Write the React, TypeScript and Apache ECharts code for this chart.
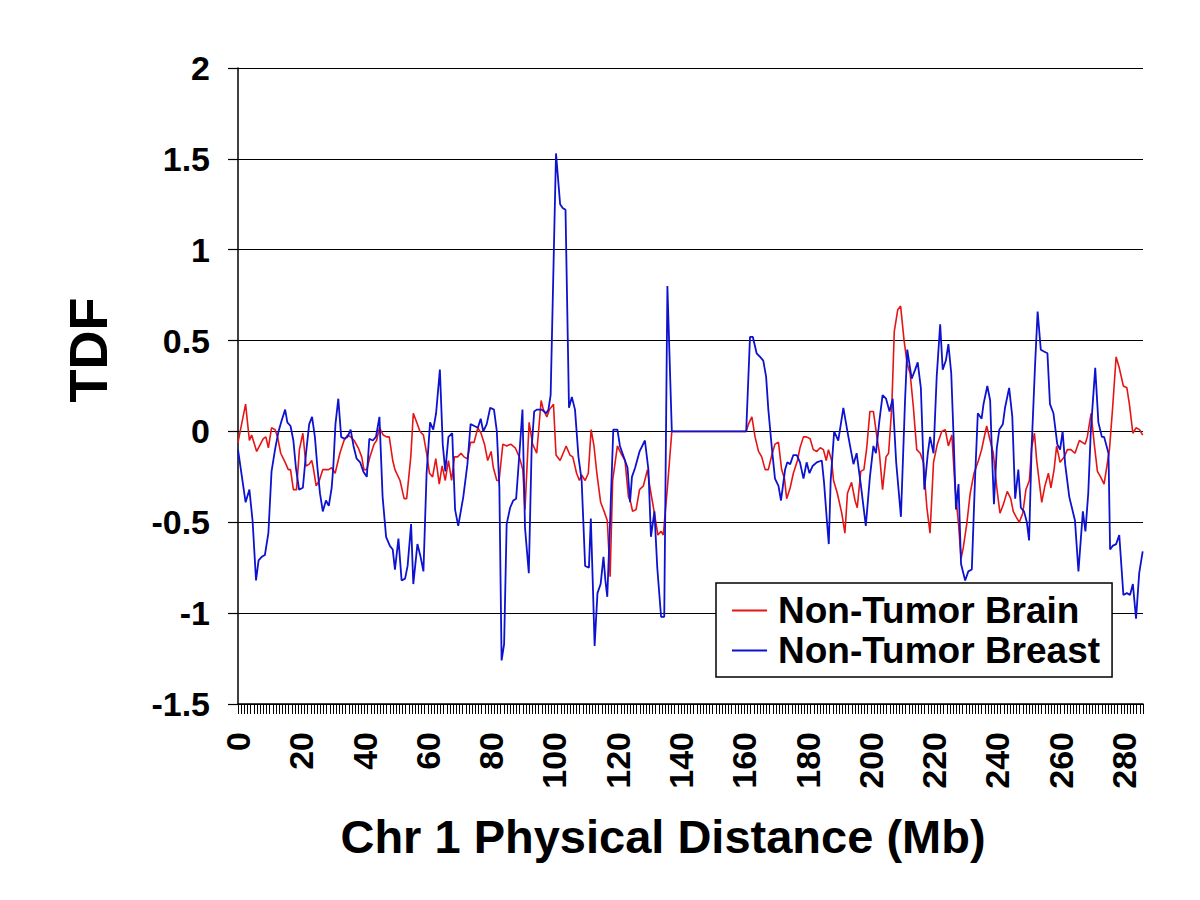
import React, { useEffect, useRef } from "react";
import * as echarts from "echarts";

// Tick labels / axis ranges
const xMin = 0;
const xMax = 286;
const xInterval = 20;
const yMin = -1.5;
const yMax = 2;
const yInterval = 0.5;

const seriesNames = ["Non-Tumor Brain", "Non-Tumor Breast"];

// Non-Tumor Brain: [Mb, TDF]
const brainPoints: [number, number][] = [
  [0, -0.06], [2.4, 0.15], [3.6, -0.05], [4.3, -0.02], [5.9, -0.11], [8, -0.04], [8.8, -0.03], [9.6, -0.09],
  [10.6, 0.02], [11.7, 0.01], [12.5, -0.03], [13.5, -0.12], [14.9, -0.17], [15.9, -0.21], [16.6, -0.21],
  [17.5, -0.32], [18.5, -0.32], [19.4, -0.1], [20.5, -0.01], [21.5, -0.19], [22.5, -0.18], [23.3, -0.16],
  [23.8, -0.2], [24.7, -0.3], [25.7, -0.27], [26.8, -0.21], [28.6, -0.21], [29.6, -0.2], [30.7, -0.23],
  [32.2, -0.12], [33.5, -0.05], [34.6, -0.02], [35.6, -0.03], [36.7, -0.05], [38, -0.09], [39.1, -0.14],
  [39.8, -0.21], [40.7, -0.21], [41.7, -0.14], [43, -0.07], [43.8, -0.05], [44.7, 0.02], [45.9, -0.02],
  [47, -0.03], [47.8, -0.03], [48.9, -0.16], [49.6, -0.21], [51.2, -0.27], [52.5, -0.37], [53.3, -0.37],
  [54.6, -0.14], [55.4, 0.1], [56.7, 0.04], [57.5, 0], [58.6, -0.02], [59.6, -0.12], [60.5, -0.23],
  [61.5, -0.25], [62.5, -0.15], [63.6, -0.29], [64.5, -0.19], [65.5, -0.27], [66.5, -0.16], [67.5, -0.27],
  [68.4, -0.14], [69.4, -0.14], [70.5, -0.12], [71.4, -0.14], [72.5, -0.15], [73.5, -0.06], [74.6, -0.06],
  [75.8, 0.02], [76.8, -0.01], [77.9, -0.07], [78.9, -0.16], [80, -0.11], [80.7, -0.2], [81.8, -0.27],
  [82.5, -0.27], [83.7, -0.07], [84.9, -0.08], [86.2, -0.07], [87.6, -0.09], [88.9, -0.14], [90, -0.21],
  [90.7, -0.43], [92, 0.05], [93.1, -0.07], [94.4, -0.12], [95.8, 0.17], [96.5, 0.12], [97.6, 0.08],
  [98.4, 0.12], [99.7, 0.15], [100.5, -0.13], [101.8, -0.16], [103.7, -0.08], [104.9, -0.13], [105.8, -0.14],
  [107, -0.23], [107.9, -0.27], [108.6, -0.24], [109.7, -0.27], [110.7, -0.23], [111.6, 0.01], [112.5, -0.08],
  [113.4, -0.23], [114.6, -0.39], [115.7, -0.44], [116.7, -0.49], [117.6, -0.8], [118.4, -0.27], [119.9, -0.08],
  [121, -0.12], [122.3, -0.16], [123.4, -0.36], [124.1, -0.39], [124.7, -0.44], [125.8, -0.43], [126.9, -0.32],
  [128.1, -0.3], [129.4, -0.21], [130.2, -0.31], [131.5, -0.44], [132.7, -0.57], [133.7, -0.55], [134.4, -0.57],
  [135.7, -0.31], [137.1, 0], [160.6, 0], [161.3, 0.04], [162.4, 0.08], [163.4, -0.03], [164.5, -0.11],
  [165.5, -0.14], [166.6, -0.21], [167.6, -0.21], [168.7, -0.13], [169.7, -0.07], [170.8, -0.06], [171.8, -0.21],
  [172.7, -0.26], [173.4, -0.37], [174.5, -0.31], [175.5, -0.23], [176.8, -0.16], [177.6, -0.09], [178.7, -0.03],
  [179.7, -0.03], [180.8, -0.04], [181.8, -0.1], [182.9, -0.11], [184, -0.09], [185, -0.1], [185.9, -0.16],
  [186.6, -0.1], [187.6, -0.16], [188.2, -0.27], [189.4, -0.34], [190.8, -0.45], [191.8, -0.56], [192.6, -0.34],
  [193.9, -0.28], [195, -0.38], [195.7, -0.42], [196.8, -0.22], [197.8, -0.21], [198.7, -0.09], [199.7, 0.11],
  [200.8, 0.11], [201.9, -0.03], [202.7, -0.12], [203.7, -0.32], [204.8, -0.14], [205.6, -0.12], [206.6, 0.13],
  [207.4, 0.55], [208.5, 0.67], [209.4, 0.69], [210.5, 0.5], [211.5, 0.37], [212.4, 0.32], [213.4, 0.14],
  [214.5, -0.1], [215.6, -0.12], [216.6, -0.17], [217.7, -0.42], [218.7, -0.56], [219.8, -0.17], [221, -0.07],
  [222.4, 0], [223.5, 0.01], [224.5, -0.08], [225.6, -0.02], [226.6, -0.31], [227.7, -0.51], [228.5, -0.7],
  [229.2, -0.64], [230.3, -0.51], [231.4, -0.34], [232.6, -0.23], [234, -0.16], [235, -0.1], [235.6, -0.05],
  [236.6, 0.03], [237.7, -0.05], [238.7, -0.12], [239.8, -0.31], [240.8, -0.45], [241.9, -0.4], [243.1, -0.33],
  [244.2, -0.37], [245, -0.44], [245.9, -0.47], [246.9, -0.5], [248, -0.45], [249, -0.32], [250.1, -0.27],
  [250.8, -0.09], [251.7, -0.01], [252.4, -0.16], [254, -0.39], [255, -0.3], [256.1, -0.23], [256.9, -0.31],
  [257.9, -0.21], [258.7, -0.08], [259.8, -0.17], [261.1, -0.14], [262.1, -0.1], [263.2, -0.1], [264.5, -0.12],
  [265.9, -0.05], [267.7, -0.07], [268.4, -0.03], [269.6, 0.1], [270.6, -0.07], [271.6, -0.22], [272.6, -0.25],
  [273.7, -0.29], [274.5, -0.2], [275.4, -0.1], [276.4, 0.13], [277.5, 0.41], [278.5, 0.35], [279.8, 0.25],
  [280.9, 0.24], [281.7, 0.15], [282.8, -0.01], [283.8, 0.02], [284.9, 0.01], [285.9, -0.02],
];

// Non-Tumor Breast: [Mb, TDF]
const breastPoints: [number, number][] = [
  [0, -0.1], [2.4, -0.39], [3.6, -0.32], [4.6, -0.49], [5.7, -0.82], [6.5, -0.71], [7.5, -0.69], [8.5, -0.68],
  [9.6, -0.56], [10.6, -0.22], [11.7, -0.1], [12.8, 0], [13.8, 0.06], [14.9, 0.12], [15.6, 0.05], [16.6, 0.03],
  [17.5, -0.05], [18.3, -0.2], [19.3, -0.32], [20.5, -0.31], [21.5, -0.12], [22.5, 0.04], [23.4, 0.08],
  [24.3, -0.03], [25.1, -0.2], [25.9, -0.34], [26.8, -0.44], [27.8, -0.38], [28.7, -0.41], [29.6, -0.31],
  [30.1, -0.2], [30.8, 0.04], [31.7, 0.18], [32.6, -0.03], [33.6, -0.04], [34.6, -0.03], [35.6, 0.01],
  [36.5, -0.08], [37.5, -0.15], [38.6, -0.17], [39.6, -0.22], [40.7, -0.25], [41.5, -0.04], [42.6, -0.05],
  [43.6, -0.03], [44.7, 0.08], [45.7, -0.36], [46.8, -0.58], [48, -0.63], [48.9, -0.65], [49.6, -0.76],
  [50.7, -0.59], [51.7, -0.82], [52.8, -0.81], [53.6, -0.74], [54.7, -0.51], [55.4, -0.84], [56.7, -0.62],
  [57.7, -0.69], [58.6, -0.77], [59.6, -0.23], [60.7, 0.05], [61.7, 0.01], [62.6, 0.1], [63.8, 0.34],
  [64.7, -0.07], [65.5, -0.22], [66.5, -0.03], [67.7, -0.01], [68.6, -0.43], [69.6, -0.52], [71.2, -0.36],
  [72.5, -0.18], [73.5, 0.04], [74.7, 0.03], [75.8, 0.02], [76.7, 0.07], [77.5, 0], [78.6, 0.04], [79.7, 0.13],
  [80.9, 0.12], [81.8, 0], [82.6, -0.31], [83.3, -1.26], [84.1, -1.17], [84.9, -0.51], [86, -0.42], [87, -0.38],
  [87.9, -0.37], [88.9, -0.13], [89.9, 0.12], [90.7, -0.53], [91.9, -0.78], [92.8, -0.09], [93.6, 0.11],
  [94.4, 0.12], [96, 0.12], [97.4, 0.1], [98.1, 0.12], [98.8, 0.2], [100.5, 1.53], [101.8, 1.25], [102.6, 1.23],
  [103.5, 1.22], [104.6, 0.13], [105.5, 0.19], [106.5, 0.12], [107.6, -0.14], [108.6, -0.27], [109.7, -0.74],
  [110.9, -0.75], [111.5, -0.48], [112.1, -0.82], [112.7, -1.18], [113.6, -0.89], [114.6, -0.84], [115.5, -0.69],
  [116.1, -0.82], [116.7, -0.91], [117.6, -0.49], [118.6, 0.01], [119.9, 0.01], [120.7, -0.08], [122.3, -0.16],
  [123.1, -0.2], [123.9, -0.39], [124.5, -0.25], [125.5, -0.2], [126.9, -0.11], [128.6, -0.05], [129.7, -0.21],
  [130.5, -0.58], [131.6, -0.44], [132.5, -0.75], [133.7, -1.02], [134.7, -1.02], [135.7, 0.8], [137.1, 0],
  [160.6, 0], [161.8, 0.52], [162.7, 0.52], [163.9, 0.43], [165, 0.41], [166, 0.39], [166.9, 0.3], [167.6, 0.12],
  [168.7, -0.09], [169.7, -0.26], [170.8, -0.3], [171.6, -0.38], [172.9, -0.21], [173.6, -0.17], [174.5, -0.18],
  [175.5, -0.13], [176.6, -0.13], [177.6, -0.17], [178.7, -0.26], [179.7, -0.17], [180.6, -0.23], [181.6, -0.19],
  [182.9, -0.17], [184.5, -0.16], [185.2, -0.28], [186.1, -0.49], [186.7, -0.62], [187.3, -0.27], [188.4, 0],
  [189.7, -0.05], [191.3, 0.13], [192.9, -0.03], [194.5, -0.18], [195.5, -0.12], [196.8, -0.29], [198.4, -0.52],
  [199.7, -0.25], [200.8, -0.08], [201.6, -0.12], [202.7, 0.06], [203.7, 0.2], [204.8, 0.18], [205.9, 0.11],
  [206.9, 0.18], [208, -0.17], [209.5, -0.47], [210.8, 0.17], [211.5, 0.45], [212.9, 0.29], [214, 0.34],
  [214.8, 0.38], [215.8, 0.24], [216.9, -0.32], [218, -0.12], [218.7, -0.03], [219.8, -0.12], [220.8, 0.3],
  [221.9, 0.59], [222.7, 0.34], [223.7, 0.39], [224.5, 0.48], [225.4, 0.32], [226.1, -0.01], [226.9, -0.43],
  [227.7, -0.29], [228.5, -0.73], [229.8, -0.82], [230.8, -0.77], [231.9, -0.76], [232.9, -0.27], [233.8, 0.1],
  [235, 0.07], [235.6, 0.15], [236.8, 0.25], [237.7, 0.17], [238.2, -0.09], [238.9, -0.4], [239.8, -0.09],
  [240.6, 0.01], [241.7, 0.04], [242.4, 0.13], [243.7, 0.24], [244.7, 0.08], [245.6, -0.37], [246.6, -0.21],
  [247.4, -0.42], [248.4, -0.44], [249.3, -0.5], [250, -0.6], [250.8, -0.09], [251.9, 0.37], [252.7, 0.66],
  [253.7, 0.45], [254.7, 0.44], [255.8, 0.43], [256.6, 0.15], [257.7, 0.1], [258.9, -0.07], [259.8, -0.1],
  [260.6, 0], [261.4, -0.18], [262.7, -0.36], [264.5, -0.49], [265.6, -0.77], [267, -0.44], [267.8, -0.55],
  [268.7, -0.34], [269.5, 0], [270.9, 0.35], [271.9, 0.05], [273, -0.03], [273.7, -0.03], [275.1, -0.12],
  [275.6, -0.65], [276.4, -0.63], [277.5, -0.62], [278.5, -0.57], [279.8, -0.9], [280.9, -0.89], [281.9, -0.9],
  [282.8, -0.84], [283.8, -1.03], [284.8, -0.78], [285.9, -0.66],
];

const FONT = 'Arial, "Liberation Sans", Helvetica, sans-serif';
const BRAIN_COLOR = "#e51515";
const BREAST_COLOR = "#0d12cf";

export default function App() {
  const ref = useRef<HTMLDivElement>(null);

  useEffect(() => {
    if (!ref.current) return;
    const chart = echarts.init(ref.current, null, { renderer: "svg" });
    chart.setOption({
      animation: false,
      backgroundColor: "#ffffff",
      grid: { left: 238, top: 68, width: 905, height: 636, containLabel: false },
      xAxis: {
        type: "value",
        min: xMin,
        max: xMax,
        interval: xInterval,
        axisLine: { onZero: false, lineStyle: { color: "#000", width: 1.5 } },
        axisTick: { show: true, length: 10, lineStyle: { color: "#000", width: 1 } },
        minorTick: { show: true, splitNumber: 20, length: 10, lineStyle: { color: "#000", width: 1 } },
        splitLine: { show: false },
        minorSplitLine: { show: false },
        axisLabel: {
          rotate: 90,
          margin: 28,
          showMaxLabel: false,
          color: "#000",
          fontFamily: FONT,
          fontWeight: "bold",
          fontSize: 34,
        },
      },
      yAxis: {
        type: "value",
        min: yMin,
        max: yMax,
        interval: yInterval,
        axisLine: { show: true, lineStyle: { color: "#000", width: 1.5 } },
        axisTick: { show: true, length: 10, lineStyle: { color: "#000", width: 1.2 } },
        splitLine: { show: true, lineStyle: { color: "#000", width: 1.2 } },
        axisLabel: {
          margin: 28,
          color: "#000",
          fontFamily: FONT,
          fontWeight: "bold",
          fontSize: 34,
        },
      },
      legend: {
        orient: "vertical",
        left: 716,
        top: 583,
        padding: [9, 12, 8, 16],
        itemGap: 3,
        itemWidth: 35,
        itemHeight: 2,
        icon: "rect",
        backgroundColor: "#ffffff",
        borderColor: "#000",
        borderWidth: 1.5,
        borderRadius: 0,
        z: 10,
        data: [
          { name: seriesNames[0], icon: "rect", itemStyle: { color: BRAIN_COLOR } },
          { name: seriesNames[1], icon: "rect", itemStyle: { color: BREAST_COLOR } },
        ],
        textStyle: {
          color: "#000",
          fontFamily: FONT,
          fontWeight: "bold",
          fontSize: 37,
          lineHeight: 36,
          padding: [0, 0, 0, 6],
        },
      },
      graphic: [
        {
          type: "text",
          x: 663,
          y: 836,
          style: {
            text: "Chr 1 Physical Distance (Mb)",
            font: `bold 47px ${FONT}`,
            fill: "#000",
            align: "center",
            verticalAlign: "middle",
          },
        },
        {
          type: "text",
          x: 88,
          y: 350,
          rotation: Math.PI / 2,
          style: {
            text: "TDF",
            font: `bold 54px ${FONT}`,
            fill: "#000",
            align: "center",
            verticalAlign: "middle",
          },
        },
      ],
      series: [
        {
          name: seriesNames[0],
          type: "line",
          data: brainPoints,
          symbol: "none",
          lineStyle: { color: BRAIN_COLOR, width: 1.6 },
          itemStyle: { color: BRAIN_COLOR },
          z: 2,
        },
        {
          name: seriesNames[1],
          type: "line",
          data: breastPoints,
          symbol: "none",
          lineStyle: { color: BREAST_COLOR, width: 1.8 },
          itemStyle: { color: BREAST_COLOR },
          z: 3,
        },
      ],
    });
    return () => chart.dispose();
  }, []);

  return (
    <div
      ref={ref}
      style={{ position: "fixed", left: 0, top: 0, width: 1200, height: 900, background: "#fff" }}
    />
  );
}
